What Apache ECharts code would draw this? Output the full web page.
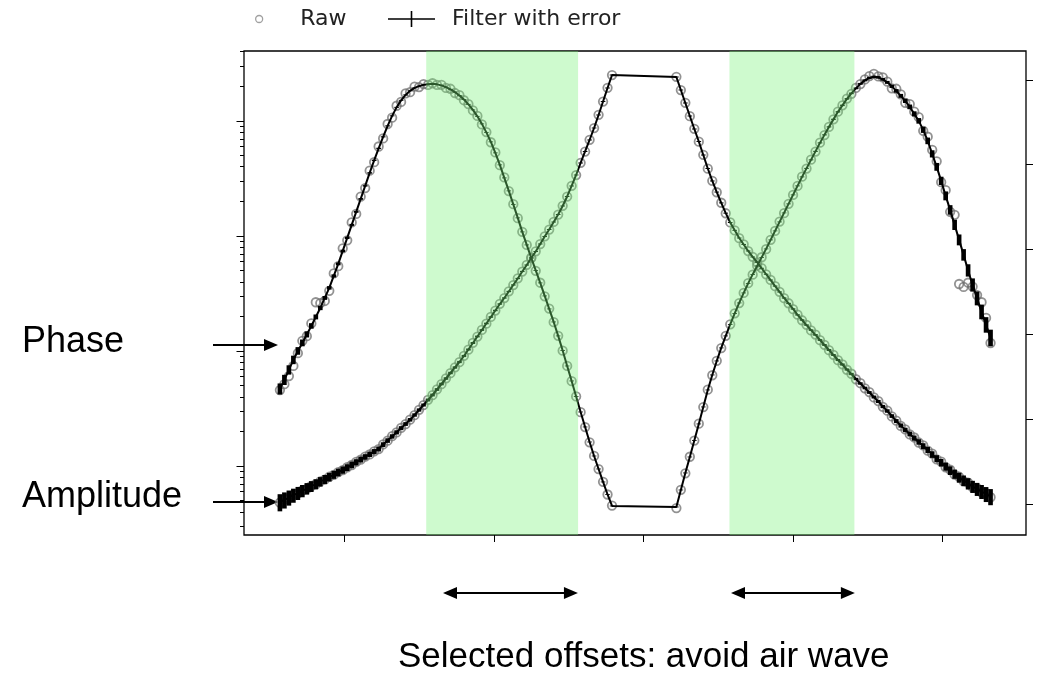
<!DOCTYPE html>
<html>
<head>
<meta charset="utf-8">
<script src="https://cdn.jsdelivr.net/npm/echarts@6/dist/echarts.min.js"></script>
<style>
  html, body { margin: 0; padding: 0; background: #fff; }
  #chart { width: 1043px; height: 677px; }
</style>
</head>
<body>
<div id="chart"></div>
<script>
// offsets (both sides of the source), gap in the middle = near offsets removed
var offsets = [
  -2.43,-2.40,-2.37,-2.34,-2.31,-2.28,-2.25,-2.22,-2.19,-2.16,-2.13,-2.10,-2.07,-2.04,-2.01,
  -1.98,-1.95,-1.92,-1.89,-1.86,-1.83,-1.80,-1.77,-1.74,-1.71,-1.68,-1.65,-1.62,-1.59,-1.56,
  -1.53,-1.50,-1.47,-1.44,-1.41,-1.38,-1.35,-1.32,-1.29,-1.26,-1.23,-1.20,-1.17,-1.14,-1.11,
  -1.08,-1.05,-1.02,-0.99,-0.96,-0.93,-0.90,-0.87,-0.84,-0.81,-0.78,-0.75,-0.72,-0.69,-0.66,
  -0.63,-0.60,-0.57,-0.54,-0.51,-0.48,-0.45,-0.42,-0.39,-0.36,-0.33,-0.30,-0.27,-0.24,-0.21,
  0.22,0.25,0.28,0.31,0.34,0.37,0.40,0.43,0.46,0.49,0.52,0.55,0.58,0.61,0.64,0.67,0.70,0.73,
  0.76,0.79,0.82,0.85,0.88,0.91,0.94,0.97,1.00,1.03,1.06,1.09,1.12,1.15,1.18,1.21,1.24,1.27,
  1.30,1.33,1.36,1.39,1.42,1.45,1.48,1.51,1.54,1.57,1.60,1.63,1.66,1.69,1.72,1.75,1.78,1.81,
  1.84,1.87,1.90,1.93,1.96,1.99,2.02,2.05,2.08,2.11,2.14,2.17,2.20,2.23,2.26,2.29,2.32
];

// amplitude (log axis)
var ampRaw = [
  4.80e-4,5.12e-4,5.28e-4,5.61e-4,5.79e-4,6.13e-4,6.33e-4,6.70e-4,6.94e-4,7.35e-4,
  7.62e-4,8.06e-4,8.36e-4,8.85e-4,9.19e-4,9.75e-4,1.02e-3,1.084e-3,1.135e-3,1.205e-3,
  1.262e-3,1.340e-3,1.403e-3,1.541e-3,1.660e-3,1.816e-3,1.957e-3,2.143e-3,2.312e-3,2.530e-3,
  2.769e-3,3.078e-3,3.384e-3,3.761e-3,4.133e-3,4.638e-3,5.150e-3,5.781e-3,6.420e-3,7.205e-3,
  8.00e-3,9.07e-3,1.027e-2,1.177e-2,1.334e-2,1.526e-2,1.729e-2,1.980e-2,2.244e-2,2.569e-2,
  2.884e-2,3.300e-2,3.741e-2,4.281e-2,4.902e-2,5.609e-2,6.421e-2,7.350e-2,8.499e-2,9.925e-2,
  0.1136,0.1326,0.1534,0.1829,0.2201,0.2729,0.3384,0.4323,0.5417,0.6853,
  0.8672,1.131,1.474,1.941,2.506,
  2.419,1.855,1.438,1.102,0.854,0.661,0.508,0.385,0.302,0.240,
  0.1945,0.1576,0.1313,0.1117,0.0958,0.0846,0.0739,0.0659,0.0589,0.0526,
  0.0464,0.0415,0.0366,0.0327,0.0288,0.0260,0.0231,0.0207,0.0185,0.0169,
  0.0151,0.0139,0.01242,0.01132,0.01017,0.00926,0.00832,0.00766,0.00687,0.00634,
  0.00568,0.00525,0.00474,0.00439,0.00395,0.00367,0.00327,0.00303,0.00270,0.00248,
  0.00223,0.00208,0.00188,0.00177,0.00160,0.00151,0.00136,0.00128,0.00114,0.00109,
  0.000975,0.000928,0.000840,0.000806,0.000737,0.000715,0.000652,0.000641,0.000591,0.000580,0.000535
];
var ampFilt = [
  4.86e-4,5.08e-4,5.32e-4,5.57e-4,5.82e-4,6.09e-4,6.37e-4,6.66e-4,6.97e-4,7.31e-4,
  7.66e-4,8.02e-4,8.40e-4,8.80e-4,9.23e-4,9.70e-4,1.024e-3,1.079e-3,1.139e-3,1.200e-3,
  1.266e-3,1.334e-3,1.408e-3,1.535e-3,1.666e-3,1.809e-3,1.963e-3,2.136e-3,2.319e-3,2.522e-3,
  2.777e-3,3.069e-3,3.392e-3,3.750e-3,4.144e-3,4.626e-3,5.164e-3,5.766e-3,6.437e-3,7.187e-3,
  8.023e-3,9.050e-3,1.030e-2,1.174e-2,1.337e-2,1.522e-2,1.734e-2,1.975e-2,2.250e-2,2.563e-2,
  2.890e-2,3.292e-2,3.750e-2,4.271e-2,4.913e-2,5.595e-2,6.437e-2,7.332e-2,8.519e-2,9.901e-2,
  0.1139,0.1323,0.1538,0.1824,0.2206,0.2722,0.3392,0.4313,0.5430,0.6836,
  0.8693,1.128,1.478,1.936,2.512,
  2.413,1.860,1.434,1.105,0.852,0.663,0.506,0.386,0.301,0.241,
  0.194,0.158,0.131,0.112,0.0961,0.0844,0.0741,0.0657,0.0591,0.0524,
  0.0465,0.0414,0.0367,0.0326,0.0289,0.0259,0.0232,0.0206,0.0186,0.0168,
  0.0152,0.0138,0.01246,0.01128,0.0102,0.00923,0.00835,0.00763,0.0069,0.00631,
  0.00571,0.00522,0.00477,0.00436,0.00398,0.00364,0.00329,0.00301,0.00272,0.00246,
  0.00225,0.00206,0.0019,0.00175,0.00162,0.00149,0.00138,0.00126,0.00116,0.00107,
  0.00099,0.000914,0.000852,0.000794,0.000748,0.000704,0.000663,0.000631,0.0006,0.000571,0.000543
];
// relative error of the filtered amplitude
var ampErr = [
  0.17,0.16,0.15,0.14,0.13,0.122,0.115,0.108,0.1,0.095,
  0.09,0.085,0.08,0.076,0.072,0.068,0.065,0.062,0.059,0.056,
  0.054,0.052,0.05,0.048,0.046,0.044,0.042,0.04,0.038,0.036,
  0.034,0.033,0.031,0.03,0.029,0.028,0.027,0.026,0.025,0.024,
  0.023,0.022,0.021,0.02,0.019,0.018,0.017,0.016,0.015,0.015,
  0.014,0.014,0.013,0.013,0.012,0.012,0.012,0.011,0.011,0.011,
  0.01,0.01,0.01,0.01,0.01,0.01,0.01,0.01,0.01,0.01,0.01,0.01,0.01,0.01,0.01,
  0.01,0.01,0.01,0.01,0.01,0.01,0.01,0.01,0.01,0.01,0.01,0.01,0.01,0.01,0.01,0.01,0.01,0.01,0.01,0.01,
  0.011,0.011,0.012,0.012,0.013,0.013,0.014,0.014,0.015,0.015,
  0.016,0.017,0.018,0.019,0.02,0.02,0.021,0.022,0.022,0.023,
  0.024,0.025,0.027,0.028,0.03,0.031,0.033,0.035,0.037,0.04,
  0.042,0.045,0.048,0.052,0.055,0.059,0.062,0.066,0.07,0.075,
  0.08,0.086,0.092,0.099,0.106,0.113,0.121,0.13,0.139,0.149,0.16
];

// phase (right axis)
var phaseRaw = [
  26.9,28.3,30.2,32.6,35.6,38.5,39.6,42.6,47.6,47.4,
  47.9,50.3,54.4,56.1,60.3,62.2,66.4,68.4,72.5,74.5,
  78.6,80.6,84.3,86.2,89.6,91.1,93.9,94.8,96.8,97.1,
  98.4,98.3,99.0,98.8,99.2,98.8,98.8,98.1,97.9,96.9,
  96.4,95.2,94.3,92.8,91.5,89.5,87.7,85.3,82.9,79.9,
  77.0,73.8,70.7,67.4,64.2,61.1,58.1,55.0,52.2,49.0,
  46.1,42.9,39.7,36.2,32.6,29.0,25.4,21.7,18.2,14.6,
  11.4,8.3,5.3,2.3,-0.3,
  -0.9,3.4,7.3,11.2,15.0,19.0,22.9,27.0,30.4,33.8,
  36.8,39.7,42.4,45.0,47.4,49.8,52.1,54.1,56.2,58.2,
  60.1,62.3,64.4,66.6,68.6,70.8,72.9,75.0,77.2,79.1,
  81.2,83.1,85.2,87.0,88.9,90.7,92.5,94.0,95.6,96.7,
  98.1,99.0,100.1,100.9,101.4,100.8,100.6,99.6,98.0,97.9,
  96.6,94.6,94.3,92.5,91.2,88.0,86.6,83.5,80.8,75.9,
  74.0,68.9,68.2,51.9,51.2,52.2,51.3,49.3,47.6,43.9,38.0
];
var phaseFilt = [
  27.17,29.30,31.65,34.01,36.13,38.02,40.02,42.02,44.14,46.26,
  48.62,50.98,53.81,56.63,59.70,62.76,65.83,68.89,71.95,75.02,
  78.08,81.03,83.86,86.57,89.16,91.52,93.52,95.17,96.46,97.41,
  98.11,98.52,98.82,98.99,99.06,98.94,98.70,98.28,97.76,97.10,
  96.30,95.36,94.23,92.93,91.40,89.63,87.63,85.39,82.80,79.97,
  76.90,73.84,70.66,67.48,64.18,61.11,58.05,55.10,52.16,49.09,
  46.03,42.96,39.67,36.25,32.59,29.06,25.41,21.75,18.22,14.68,
  11.38,8.32,5.26,2.31,-0.40,
  -0.64,3.37,7.38,11.15,15.04,18.93,22.93,26.94,30.47,33.77,
  36.84,39.67,42.38,44.97,47.44,49.80,52.04,54.16,56.16,58.17,
  60.17,62.29,64.41,66.53,68.65,70.78,72.90,75.02,77.14,79.14,
  81.15,83.15,85.15,87.04,88.92,90.69,92.46,93.99,95.52,96.82,
  98.00,99.06,99.88,100.47,100.71,100.59,100.12,99.41,98.47,97.41,
  96.23,95.05,93.64,91.99,90.34,88.22,85.62,82.56,79.50,76.20,
  72.66,69.36,65.83,62.29,58.76,55.10,51.68,48.50,45.32,42.26,39.19
];
var phaseErr = [
  1.3,1.2,1.1,1.0,0.9,0.8,0.72,0.65,0.58,0.52,
  0.46,0.41,0.37,0.33,0.3,0.27,0.24,0.22,0.2,0.18,
  0.17,0.16,0.15,0.14,0.13,0.12,0.12,0.11,0.11,0.1,
  0.1,0.1,0.1,0.1,0.1,0.1,0.1,0.1,0.1,0.1,
  0.1,0.1,0.1,0.1,0.1,0.1,0.1,0.1,0.1,0.1,
  0.1,0.1,0.1,0.1,0.1,0.1,0.1,0.1,0.1,0.1,
  0.1,0.1,0.1,0.1,0.1,0.1,0.1,0.1,0.1,0.1,0.1,0.1,0.1,0.1,0.1,
  0.1,0.1,0.1,0.1,0.1,0.1,0.1,0.1,0.1,0.1,0.1,0.1,0.1,0.1,0.1,0.1,0.1,0.1,0.1,0.1,
  0.1,0.1,0.1,0.1,0.1,0.1,0.11,0.11,0.12,0.12,
  0.13,0.13,0.14,0.14,0.15,0.16,0.17,0.18,0.19,0.2,
  0.21,0.22,0.24,0.26,0.28,0.3,0.32,0.35,0.38,0.42,
  0.46,0.5,0.55,0.6,0.66,0.72,0.78,0.85,0.92,0.98,
  1.05,1.12,1.2,1.28,1.36,1.45,1.54,1.63,1.73,1.83,1.95
];

// selected offset windows (shaded) and the arrows under them
var bands = [[-1.452, -0.437], [0.575, 1.410]];
var arrowSpans = [[-1.34, -0.438], [0.585, 1.413]];

// ticks (no tick labels in the figure)
var offsetTicks = [-2, -1, 0, 1, 2];
var phaseTicks = [0, 20, 40, 60, 80, 100];
var ampDecades = [0.001, 0.01, 0.1, 1];

var ampMin = 2.512e-4, ampMax = 4.06;
var logMin = Math.log10(ampMin), logMax = Math.log10(ampMax);

var majorLog = ampDecades.map(function (d) { return Math.log10(d); });
var minorLog = [];
[1e-4, 1e-3, 1e-2, 1e-1, 1].forEach(function (d) {
    for (var k = 2; k <= 9; k++) {
        var v = Math.log10(k * d);
        if (v >= logMin && v <= logMax) minorLog.push(v);
    }
});

function pairs(vals) {
    return offsets.map(function (x, i) { return [x, vals[i]]; });
}
function errRows(vals, errs, relative) {
    return offsets.map(function (x, i) {
        var v = vals[i], e = errs[i];
        return relative ? [x, v * (1 - e), v * (1 + e)] : [x, v - e, v + e];
    });
}
function renderErr(params, api) {
    var x = api.value(0);
    var lo = api.coord([x, api.value(1)]);
    var hi = api.coord([x, api.value(2)]);
    var half = api.coord([x + 0.0155, api.value(1)])[0] - lo[0];
    return {
        type: 'rect',
        shape: { x: lo[0] - half, y: hi[1], width: half * 2, height: Math.max(lo[1] - hi[1], 0.5) },
        style: { fill: '#000' }
    };
}
function renderBand(params, api) {
    var x0 = api.coord([api.value(0), 0])[0];
    var x1 = api.coord([api.value(1), 0])[0];
    var cs = params.coordSys;
    return {
        type: 'rect',
        shape: { x: x0, y: cs.y, width: x1 - x0, height: cs.height },
        style: { fill: 'rgba(120,240,120,0.36)' }
    };
}

var rawStyle = { color: 'rgba(0,0,0,0)', borderColor: 'rgba(112,112,112,0.95)', borderWidth: 1.8 };
var legendText = { fontFamily: 'DejaVu Sans', fontSize: 22, color: '#222' };

var chart = echarts.init(document.getElementById('chart'));
chart.setOption({
    animation: false,
    backgroundColor: '#fff',
    legend: [{
        data: [{ name: 'Raw', icon: 'circle', itemStyle: { color: 'rgba(0,0,0,0)', borderColor: '#888', borderWidth: 1.3 } }],
        left: 255, top: 8, padding: 0,
        itemWidth: 72, itemHeight: 7,
        textStyle: legendText
    }, {
        data: [{ name: 'Filter with error', icon: 'path://M0,7.2H47V8.8H0Z M22.7,0H24.3V16H22.7Z', itemStyle: { color: '#000' } }],
        left: 388, top: 8, padding: 0,
        itemWidth: 47, itemHeight: 16,
        textStyle: Object.assign({ padding: [0, 0, 0, 12] }, legendText)
    }],
    grid: {
        left: 244, top: 51, width: 782, height: 484,
        show: true, borderColor: '#000', borderWidth: 1.3
    },
    xAxis: {
        type: 'value', min: -2.67, max: 2.557,
        axisLine: { show: false, onZero: false },
        axisTick: { customValues: offsetTicks, length: 7, lineStyle: { color: '#000' } },
        axisLabel: { show: false },
        splitLine: { show: false }
    },
    yAxis: [{
        // amplitude
        type: 'log', logBase: 10, min: ampMin, max: ampMax, show: false
    }, {
        // phase
        type: 'value', position: 'right', min: -7.24, max: 106.8,
        axisLine: { show: false, onZero: false },
        axisTick: { customValues: phaseTicks, length: 7, lineStyle: { color: '#000' } },
        axisLabel: { show: false },
        splitLine: { show: false }
    }, {
        // decade ticks of the amplitude axis
        type: 'value', position: 'left', min: logMin, max: logMax,
        axisLine: { show: false, onZero: false },
        axisTick: { customValues: majorLog, length: 7.5, lineStyle: { color: '#000' } },
        axisLabel: { show: false },
        splitLine: { show: false }
    }, {
        type: 'value', position: 'left', min: logMin, max: logMax,
        axisLine: { show: false, onZero: false },
        axisTick: { customValues: minorLog, length: 4, lineStyle: { color: '#000' } },
        axisLabel: { show: false },
        splitLine: { show: false }
    }],
    series: [{
        name: 'Raw', type: 'scatter', yAxisIndex: 0, z: 2,
        symbol: 'circle', symbolSize: 8.5, itemStyle: rawStyle,
        data: pairs(ampRaw)
    }, {
        name: 'Raw', type: 'scatter', yAxisIndex: 1, z: 2,
        symbol: 'circle', symbolSize: 8.5, itemStyle: rawStyle,
        data: pairs(phaseRaw)
    }, {
        name: 'Filter with error', type: 'custom', yAxisIndex: 0, z: 3,
        encode: { x: 0, y: [1, 2] },
        renderItem: renderErr,
        data: errRows(ampFilt, ampErr, true)
    }, {
        name: 'Filter with error', type: 'custom', yAxisIndex: 1, z: 3,
        encode: { x: 0, y: [1, 2] },
        renderItem: renderErr,
        data: errRows(phaseFilt, phaseErr, false)
    }, {
        name: 'Filter with error', type: 'line', yAxisIndex: 0, z: 4,
        showSymbol: false, lineStyle: { color: '#000', width: 2 },
        data: pairs(ampFilt)
    }, {
        name: 'Filter with error', type: 'line', yAxisIndex: 1, z: 4,
        showSymbol: false, lineStyle: { color: '#000', width: 2 },
        data: pairs(phaseFilt)
    }, {
        name: 'bands', type: 'custom', yAxisIndex: 1, z: 10, silent: true,
        renderItem: renderBand,
        data: bands
    }]
});

// annotations: labels, arrows and the caption under the axis
function arrowEls(x1, x2, y, twoHeads) {
    var head = 14, hw = 6;
    var els = [{
        type: 'line', silent: true,
        shape: { x1: twoHeads ? x1 + head - 1 : x1, y1: y, x2: x2 - head + 1, y2: y },
        style: { stroke: '#000', lineWidth: 2 }
    }, {
        type: 'polygon', silent: true,
        shape: { points: [[x2, y], [x2 - head, y - hw], [x2 - head, y + hw]] },
        style: { fill: '#000' }
    }];
    if (twoHeads) {
        els.push({
            type: 'polygon', silent: true,
            shape: { points: [[x1, y], [x1 + head, y - hw], [x1 + head, y + hw]] },
            style: { fill: '#000' }
        });
    }
    return els;
}
function label(text, x, y, size) {
    return {
        type: 'text', silent: true, x: x, y: y,
        style: { text: text, fill: '#000', font: size + 'px "Liberation Sans", Arial, sans-serif', verticalAlign: 'middle', align: 'left' }
    };
}

var els = [];
els.push(label('Phase', 22, 342, 36));
els.push(label('Amplitude', 22, 497, 36));
els = els.concat(arrowEls(213, 278, 345, false));
els = els.concat(arrowEls(213, 278, 502, false));
arrowSpans.forEach(function (s) {
    var a = chart.convertToPixel({ xAxisIndex: 0 }, s[0]);
    var b = chart.convertToPixel({ xAxisIndex: 0 }, s[1]);
    els = els.concat(arrowEls(a, b, 593, true));
});
els.push(label('Selected offsets: avoid air wave', 398, 657, 35));
chart.setOption({ graphic: els });
</script>
</body>
</html>
